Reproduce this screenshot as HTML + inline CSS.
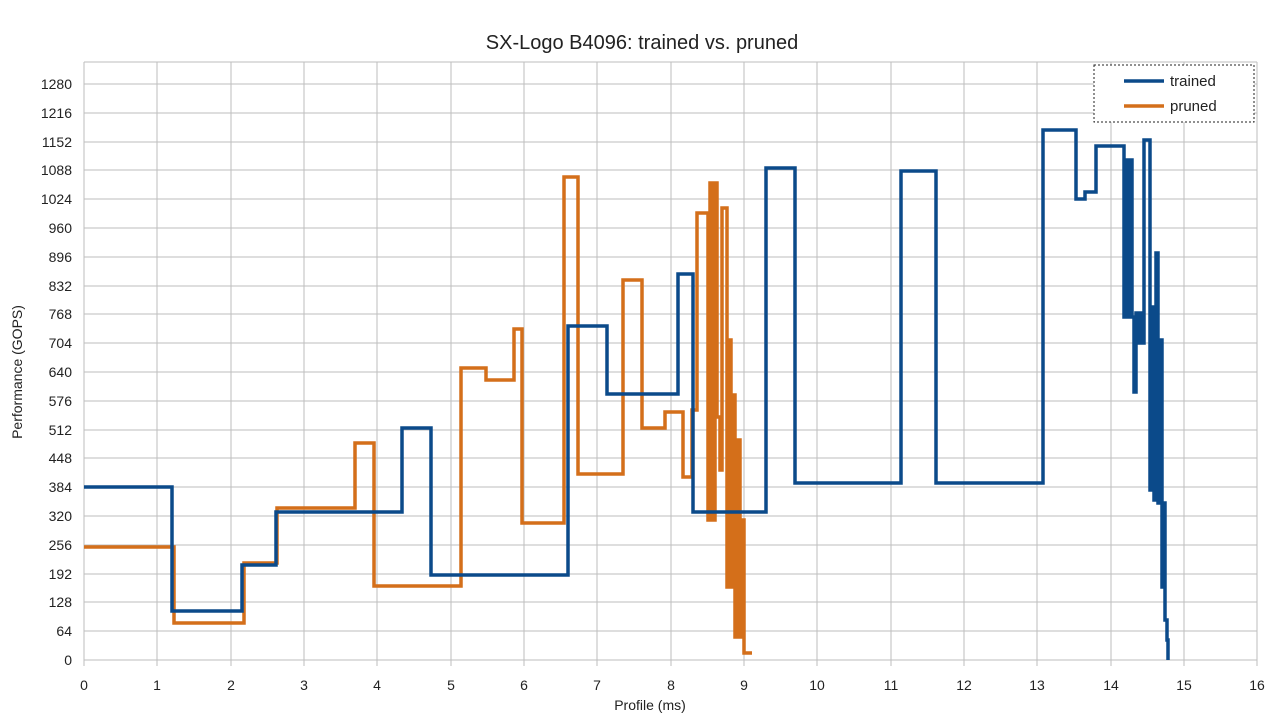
<!DOCTYPE html><html><head><style>body{margin:0;background:#fff}svg{display:block}text{font-family:"Liberation Sans",sans-serif}</style></head><body>
<svg width="1280" height="719" xmlns="http://www.w3.org/2000/svg">
<rect width="1280" height="719" fill="#fff"/>
<text x="642" y="49" font-size="20" text-anchor="middle" fill="#222">SX-Logo B4096: trained vs. pruned</text>
<g stroke="#bdbdbd" stroke-width="1">
<line x1="84" y1="660" x2="1257" y2="660"/><line x1="84" y1="631" x2="1257" y2="631"/><line x1="84" y1="602" x2="1257" y2="602"/><line x1="84" y1="574" x2="1257" y2="574"/><line x1="84" y1="545" x2="1257" y2="545"/><line x1="84" y1="516" x2="1257" y2="516"/><line x1="84" y1="487" x2="1257" y2="487"/><line x1="84" y1="458" x2="1257" y2="458"/><line x1="84" y1="430" x2="1257" y2="430"/><line x1="84" y1="401" x2="1257" y2="401"/><line x1="84" y1="372" x2="1257" y2="372"/><line x1="84" y1="343" x2="1257" y2="343"/><line x1="84" y1="314" x2="1257" y2="314"/><line x1="84" y1="286" x2="1257" y2="286"/><line x1="84" y1="257" x2="1257" y2="257"/><line x1="84" y1="228" x2="1257" y2="228"/><line x1="84" y1="199" x2="1257" y2="199"/><line x1="84" y1="170" x2="1257" y2="170"/><line x1="84" y1="142" x2="1257" y2="142"/><line x1="84" y1="113" x2="1257" y2="113"/><line x1="84" y1="84" x2="1257" y2="84"/><line x1="84" y1="62" x2="1257" y2="62"/>
<line x1="84" y1="62" x2="84" y2="666"/><line x1="157" y1="62" x2="157" y2="666"/><line x1="231" y1="62" x2="231" y2="666"/><line x1="304" y1="62" x2="304" y2="666"/><line x1="377" y1="62" x2="377" y2="666"/><line x1="451" y1="62" x2="451" y2="666"/><line x1="524" y1="62" x2="524" y2="666"/><line x1="597" y1="62" x2="597" y2="666"/><line x1="671" y1="62" x2="671" y2="666"/><line x1="744" y1="62" x2="744" y2="666"/><line x1="817" y1="62" x2="817" y2="666"/><line x1="891" y1="62" x2="891" y2="666"/><line x1="964" y1="62" x2="964" y2="666"/><line x1="1037" y1="62" x2="1037" y2="666"/><line x1="1111" y1="62" x2="1111" y2="666"/><line x1="1184" y1="62" x2="1184" y2="666"/><line x1="1257" y1="62" x2="1257" y2="666"/>
</g>
<g font-size="14" fill="#222" text-anchor="end">
<text x="72" y="665">0</text><text x="72" y="636">64</text><text x="72" y="607">128</text><text x="72" y="579">192</text><text x="72" y="550">256</text><text x="72" y="521">320</text><text x="72" y="492">384</text><text x="72" y="463">448</text><text x="72" y="435">512</text><text x="72" y="406">576</text><text x="72" y="377">640</text><text x="72" y="348">704</text><text x="72" y="319">768</text><text x="72" y="291">832</text><text x="72" y="262">896</text><text x="72" y="233">960</text><text x="72" y="204">1024</text><text x="72" y="175">1088</text><text x="72" y="147">1152</text><text x="72" y="118">1216</text><text x="72" y="89">1280</text>
</g>
<g font-size="14" fill="#222" text-anchor="middle">
<text x="84" y="690">0</text><text x="157" y="690">1</text><text x="231" y="690">2</text><text x="304" y="690">3</text><text x="377" y="690">4</text><text x="451" y="690">5</text><text x="524" y="690">6</text><text x="597" y="690">7</text><text x="671" y="690">8</text><text x="744" y="690">9</text><text x="817" y="690">10</text><text x="891" y="690">11</text><text x="964" y="690">12</text><text x="1037" y="690">13</text><text x="1111" y="690">14</text><text x="1184" y="690">15</text><text x="1257" y="690">16</text>
</g>
<text x="650" y="710" font-size="14" text-anchor="middle" fill="#222">Profile (ms)</text>
<text transform="translate(22,372) rotate(-90)" font-size="14" text-anchor="middle" fill="#222">Performance (GOPS)</text>
<polyline fill="none" stroke="#d46f1a" stroke-width="3.5" stroke-linejoin="miter" points="84,547 174,547 174,623 244,623 244,563 277,563 277,508 355,508 355,443 374,443 374,586 461,586 461,368 486,368 486,380 514,380 514,329 522,329 522,523 564,523 564,177 578,177 578,474 623,474 623,280 642,280 642,428 665,428 665,412 683,412 683,477 692,477 692,410 697,410 697,213 708,213 708,520 710,520 710,183 713,183 713,520 715,520 715,183 717,183 717,417 720,417 720,470 722,470 722,208 727,208 727,587 729,587 729,340 731,340 731,587 733,587 733,395 735,395 735,637 737,637 737,440 740,440 740,637 742,637 742,520 744,520 744,653 749,653 752,653"/>
<polyline fill="none" stroke="#0b4a8a" stroke-width="3.5" stroke-linejoin="miter" points="84,487 172,487 172,611 242,611 242,565 276,565 276,512 402,512 402,428 431,428 431,575 568,575 568,326 607,326 607,394 678,394 678,274 693,274 693,512 766,512 766,168 795,168 795,483 901,483 901,171 936,171 936,483 1043,483 1043,130 1076,130 1076,199 1085,199 1085,192 1096,192 1096,146 1124,146 1124,317 1126,317 1126,160 1128,160 1128,317 1130,317 1130,160 1132,160 1132,317 1134,317 1134,392 1136,392 1136,313 1138,313 1138,343 1140,343 1140,313 1143,313 1143,343 1144,343 1144,140 1150,140 1150,490 1152,490 1152,307 1154,307 1154,500 1156,500 1156,253 1158,253 1158,503 1160,503 1160,340 1162,340 1162,587 1164,587 1164,503 1165,503 1165,620 1167,620 1167,640 1168,640 1168,660"/>
<rect x="1094" y="65" width="160" height="57" fill="#fff" stroke="#222" stroke-width="1" stroke-dasharray="2,2"/>
<line x1="1124" y1="81" x2="1164" y2="81" stroke="#0b4a8a" stroke-width="3.5"/>
<line x1="1124" y1="106" x2="1164" y2="106" stroke="#d46f1a" stroke-width="3.5"/>
<text x="1170" y="86" font-size="15" fill="#222">trained</text>
<text x="1170" y="111" font-size="15" fill="#222">pruned</text>
</svg></body></html>
